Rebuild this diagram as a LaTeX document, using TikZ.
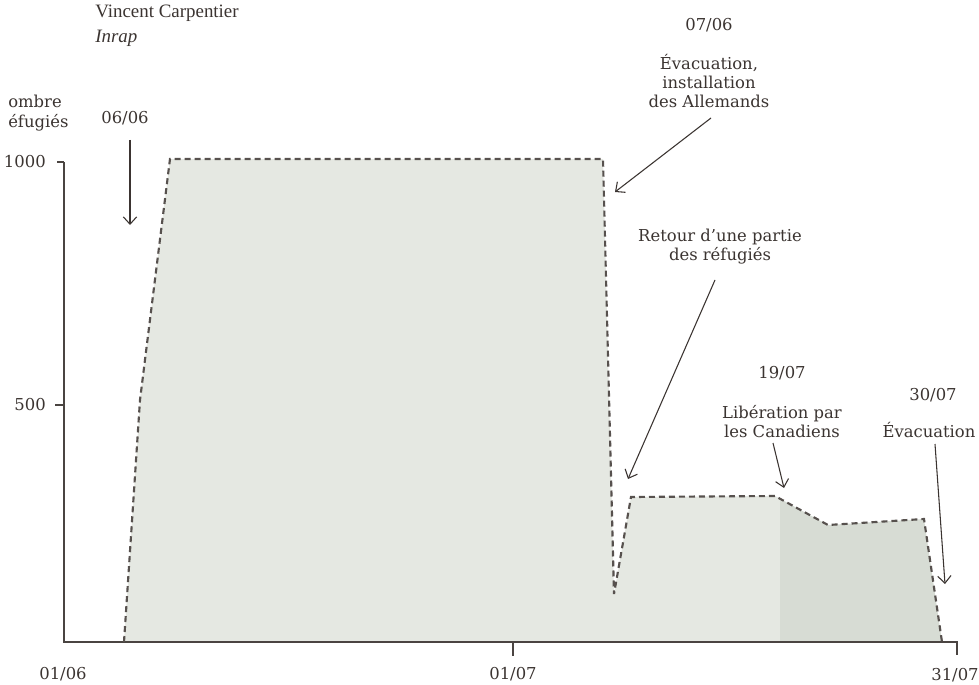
\documentclass[tikz,border=0pt]{standalone}
\usepackage{fontspec}
\setmainfont{DejaVu Serif}
\newfontfamily\headfont{Liberation Serif}
\usetikzlibrary{arrows.meta}
\definecolor{ink}{HTML}{3B3431}
\definecolor{axisc}{HTML}{4A4441}
\definecolor{dashc}{HTML}{57514E}
\definecolor{filla}{HTML}{E5E8E2}
\definecolor{fillb}{HTML}{D7DCD4}
\tikzset{
  lbl/.style={text=ink, inner sep=0pt, align=center, font=\fontsize{12.3}{14.3}\selectfont},
  hdr/.style={text=ink, inner sep=0pt, anchor=west, font=\headfont\fontsize{14.2}{16}\selectfont},
  axisline/.style={draw=axisc, line width=1.3pt},
  dataline/.style={draw=dashc, line width=1.6pt, dash pattern=on 4.5pt off 3pt},
  arr/.style={draw=ink, line width=0.8pt, -{Straight Barb[length=5.5pt,width=10pt]}}
}
\begin{document}
\begin{tikzpicture}[x=0.75pt, y=-0.75pt]
\clip (0,0) rectangle (979,685);
\fill[white] (0,0) rectangle (979,685);
% fills
\fill[filla] (124,642) -- (140,400) -- (170,159) -- (603,159) -- (614,594) -- (631,497) -- (775,496) -- (780,498.7) -- (780,642) -- cycle;
\fill[fillb] (780,642) -- (780,498.7) -- (828,525) -- (924,519) -- (942,642) -- cycle;
% axes
\draw[axisline] (64,162) -- (64,642) -- (957,642) -- (957,655);
\draw[axisline] (57,162) -- (64,162);
\draw[axisline] (55,405) -- (64,405);
\draw[axisline] (513,642) -- (513,656);
% data line
\draw[dataline] (124,642) -- (140,400) -- (170,159) -- (603,159) -- (614,594) -- (631,497) -- (775,496) -- (828,525) -- (924,519) -- (942,642);
% header
\node[hdr] (author) at (95,13) {Vincent Carpentier};
\node[hdr, font=\headfont\fontsize{14.2}{16}\selectfont\itshape] (inst) at (95,38) {Inrap};
% axis labels
\node[lbl, anchor=west] (ylab1) at (8,101) {ombre};
\node[lbl, anchor=west] (ylab2) at (8,123) {éfugiés};
\node[lbl, anchor=east] (y1000) at (46,162) {1000};
\node[lbl, anchor=east] (y500) at (46,405) {500};
\node[lbl] (x0106) at (63,674) {01/06};
\node[lbl] (x0107) at (513,674) {01/07};
\node[lbl] (x3107) at (955,675) {31/07};
% annotations
\node[lbl] (d0606) at (125,118) {06/06};
\node[lbl] (d0706) at (709,25) {07/06};
\node[lbl] (t0706) at (709,81) {Évacuation,\\installation\\des Allemands};
\node[lbl, fill=white, inner sep=4pt] (tret) at (720,247) {Retour d’une partie\\des réfugiés};
\node[lbl] (d1907) at (782,373) {19/07};
\node[lbl] (t1907) at (782,421.5) {Libération par\\les Canadiens};
\node[lbl] (d3007) at (933,395) {30/07};
\node[lbl] (t3007) at (929,430) {Évacuation};
% arrows
\coordinate (a1s) at (130,140); \coordinate (a1e) at (130,225);
\coordinate (a2s) at (711,118); \coordinate (a2e) at (615,192);
\coordinate (a3s) at (715,280); \coordinate (a3e) at (628,479);
\coordinate (a4s) at (773,443); \coordinate (a4e) at (784,488);
\coordinate (a5s) at (935,444); \coordinate (a5e) at (945,584);
\draw[arr] (a1s) -- (a1e);
\draw[arr] (a2s) -- (a2e);
\draw[arr] (a3s) -- (a3e);
\draw[arr] (a4s) -- (a4e);
\draw[arr] (a5s) -- (a5e);
\end{tikzpicture}
\end{document}
